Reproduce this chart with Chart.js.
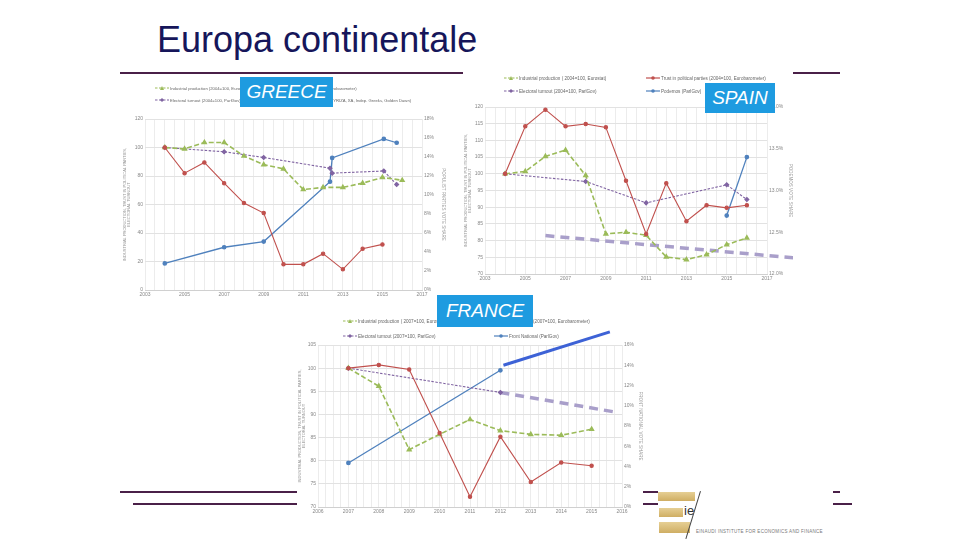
<!DOCTYPE html>
<html>
<head>
<meta charset="utf-8">
<script src="https://cdn.jsdelivr.net/npm/chart.js@4.4.0/dist/chart.umd.min.js"></script>
<style>
  body { margin: 0; width: 960px; height: 540px; background: #fff; position: relative; overflow: hidden; font-family: "Liberation Sans", Arial, sans-serif; }
  .title { position: absolute; left: 157px; top: 19px; font-size: 36px; color: #16165a; }
  .hl { position: absolute; height: 1.5px; background: #4a2048; }
  .box { position: absolute; background: #fff; }
  .box canvas { position: absolute; left: 0; top: 0; }
  .tag { position: absolute; background: #1e9be0; color: #fff; font-style: italic; font-size: 19px; text-align: center; z-index: 5; }
  .leg { position: absolute; color: #666; white-space: nowrap; display: flex; align-items: center; z-index: 3; }
  .leg svg { margin-right: 1px; }
  .logo { position: absolute; }
</style>
</head>
<body>
<div class="title">Europa continentale</div>

<div class="hl" style="left:120px; top:72px; width:720px;"></div>
<div class="hl" style="left:120px; top:491px; width:720px;"></div>
<div class="hl" style="left:133px; top:503px; width:719px;"></div>

<div class="box" id="frBox" style="left:297px; top:303px; width:346px; height:221px;"><canvas id="fr"></canvas></div>
<div class="box" id="grBox" style="left:122px; top:76px; width:324px; height:227px;"><canvas id="gr"></canvas></div>
<div class="box" id="esBox" style="left:463px; top:66px; width:330px; height:225px;"><canvas id="es"></canvas></div>

<div class="tag" style="left:240px; top:77px; width:93px; height:30px; line-height:30px;">GREECE</div>
<div class="tag" style="left:705px; top:83px; width:70px; height:30px; line-height:30px;">SPAIN</div>
<div class="tag" style="left:437px; top:295px; width:96px; height:32px; line-height:32px;">FRANCE</div>

<!-- logo -->
<div class="logo" style="left:658px; top:486px; width:175px; height:54px; background:#fff;"></div>
<div class="logo" style="left:658px; top:492px; width:37px; height:9px; background:linear-gradient(#e6cf94,#cfae63);"></div>
<div class="logo" style="left:659px; top:508px; width:24px; height:9px; background:linear-gradient(#e6cf94,#cfae63);"></div>
<div class="logo" style="left:659px; top:522px; width:31px; height:11px; background:linear-gradient(#e6cf94,#cfae63);"></div>
<div class="logo" style="left:684px; top:503px; font-size:13px; color:#333;">ie</div>
<div class="logo" style="left:700px; top:491px; width:1px; height:50px; background:#444; transform:rotate(17deg); transform-origin:top left;"></div>
<div class="logo" style="left:696px; top:529px; font-size:4.5px; color:#777; letter-spacing:0.3px;">EINAUDI INSTITUTE FOR ECONOMICS AND FINANCE</div>

<script>
// ---- Greece ----
const grIPYears = [2004, 2005, 2006, 2007, 2008, 2009, 2010, 2011, 2012, 2013, 2014, 2015, 2016];
const grIndProd = [100, 99, 103.5, 103.5, 94, 88, 85, 70.5, 72, 72, 75, 79, 77];
const grTrustYears = [2004, 2005, 2006, 2007, 2008, 2009, 2010, 2011, 2012, 2013, 2014, 2015];
const grTrust = [100, 82, 89.5, 75, 61, 54, 18, 18, 25.5, 14.5, 29, 32];
const grElecYears = [2004, 2007, 2009, 2012.35, 2012.46, 2015.07, 2015.72];
const grTurnout = [100, 97, 93, 85.5, 82, 83.5, 74];
const grPopulist = [2.8, 4.5, 5.1, 11.4, 13.9, 15.9, 15.5];

// ---- Spain ----
const esYears = [2004, 2005, 2006, 2007, 2008, 2009, 2010, 2011, 2012, 2013, 2014, 2015, 2016];
const esIndProd = [100, 100.7, 105.2, 107.1, 99.5, 82, 82.5, 81.6, 75.1, 74.3, 75.8, 78.8, 80.8];
const esTrust = [100, 114.2, 119.2, 114.2, 114.9, 113.9, 97.9, 82, 97.2, 85.8, 90.6, 89.8, 90.6];
const esElecYears = [2004, 2008, 2011, 2015, 2016];
const esTurnout = [100, 97.7, 91.3, 96.7, 92.3];
const esPodemosYears = [2015, 2016];
const esPodemos = [12.7, 13.4];
const esTrendYears = [2006, 2018.4];
const esTrend = [81.5, 74.8];

// ---- France ----
const frYears = [2007, 2008, 2009, 2010, 2011, 2012, 2013, 2014, 2015];
const frIndProd = [100, 96.1, 82.4, 85.7, 88.9, 86.5, 85.7, 85.5, 86.8];
const frTrust = [100, 100.7, 99.7, 86, 72.2, 85.2, 75.4, 79.6, 78.9];
const frElecYears = [2007, 2012];
const frTurnout = [100, 94.75];
const frFN = [4.35, 13.5];
const frTurnoutTrendYears = [2012, 2015.7];
const frTurnoutTrend = [94.75, 90.6];
const frFNTrendYears = [2012.1, 2015.6];
const frFNTrend = [14.0, 17.3];

const GREEN = '#9bbb59', RED = '#c0504d', PURPLE = '#8064a2', BLUE = '#4f81bd', LAV = '#a99fca';

const pts = (xs, ys) => xs.map((x, i) => ({ x: x, y: ys[i] }));

function ipSet(xs, ys) {
  return { data: pts(xs, ys), borderColor: GREEN, backgroundColor: GREEN, borderWidth: 1.6, borderDash: [5, 2.5],
    pointStyle: 'triangle', pointRadius: 2, yAxisID: 'y' };
}
function trustSet(xs, ys) {
  return { data: pts(xs, ys), borderColor: RED, backgroundColor: RED, borderWidth: 1.1,
    pointStyle: 'circle', pointRadius: 1.7, yAxisID: 'y' };
}
function turnSet(xs, ys) {
  return { data: pts(xs, ys), borderColor: PURPLE, backgroundColor: PURPLE, borderWidth: 1.1, borderDash: [2.5, 1.5],
    pointStyle: 'rectRot', pointRadius: 2, yAxisID: 'y' };
}
function partySet(xs, ys) {
  return { data: pts(xs, ys), borderColor: BLUE, backgroundColor: BLUE, borderWidth: 1.3,
    pointStyle: 'circle', pointRadius: 1.7, yAxisID: 'y2' };
}

function makeChart(id, o) {
  const box = document.getElementById(id + 'Box');
  const c = document.getElementById(id);
  c.width = box.clientWidth; c.height = box.clientHeight;
  return new Chart(c.getContext('2d'), {
    type: 'line',
    data: { datasets: o.datasets },
    options: {
      responsive: false, animation: false,
      layout: { padding: { top: o.top, left: 0, right: 0, bottom: 0 } },
      plugins: { legend: { display: false }, tooltip: { enabled: false } },
      scales: {
        x: {
          type: 'linear', min: o.xmin, max: o.xmax,
          ticks: { stepSize: o.xgrid, autoSkip: false, maxRotation: 0, font: { size: 5 }, color: '#888', padding: 2,
            callback: v => (Number.isInteger(v) && (v - o.xmin) % o.xlab === 0) ? String(v) : '' },
          grid: { color: '#ececec', drawTicks: false }, border: { color: '#d0d0d0' },
          afterFit: s => { s.height = o.xh; }
        },
        y: {
          position: 'left', min: o.ymin, max: o.ymax,
          ticks: { stepSize: o.ystep, font: { size: 5 }, color: '#888', padding: 2 },
          grid: { color: '#e2e2e2', drawTicks: false }, border: { display: false },
          title: { display: true, text: o.ytitle, font: { size: 4 }, color: '#999', padding: 0 },
          afterFit: s => { s.width = o.yw; }
        },
        y2: {
          position: 'right', min: o.y2min, max: o.y2max,
          ticks: { stepSize: o.y2step, font: { size: 5 }, color: '#888', padding: 2,
            callback: v => o.y2fmt(v) },
          grid: { drawOnChartArea: false, drawTicks: false }, border: { display: false },
          title: { display: true, text: o.y2title, font: { size: 4.5 }, color: '#999', padding: 0 },
          afterFit: s => { s.width = o.y2w; }
        }
      }
    }
  });
}

makeChart('gr', {
  top: 43, xmin: 2003, xmax: 2017, xgrid: 0.5, xlab: 2, xh: 13,
  ymin: 0, ymax: 120, ystep: 20, yw: 23,
  y2min: 0, y2max: 18, y2step: 2, y2w: 24, y2fmt: v => v + '%',
  ytitle: ['INDUSTRIAL PRODUCTION, TRUST IN POLITICAL PARTIES,', 'ELECTORAL TURNOUT'],
  y2title: 'POPULIST PARTIES VOTE SHARE',
  datasets: [
    trustSet(grTrustYears, grTrust),
    ipSet(grIPYears, grIndProd),
    turnSet(grElecYears, grTurnout),
    partySet(grElecYears, grPopulist)
  ]
});

makeChart('es', {
  top: 41, xmin: 2003, xmax: 2017, xgrid: 0.5, xlab: 2, xh: 17,
  ymin: 70, ymax: 120, ystep: 5, yw: 22,
  y2min: 12, y2max: 14, y2step: 0.5, y2w: 26, y2fmt: v => v.toFixed(1) + '%',
  ytitle: ['INDUSTRIAL PRODUCTION, TRUST IN POLITICAL PARTIES,', 'ELECTORAL TURNOUT'],
  y2title: 'PODEMOS VOTE SHARE',
  datasets: [
    trustSet(esYears, esTrust),
    ipSet(esYears, esIndProd),
    turnSet(esElecYears, esTurnout),
    partySet(esPodemosYears, esPodemos),
    { data: pts(esTrendYears, esTrend), borderColor: LAV, borderWidth: 3.5, borderDash: [9, 6], pointRadius: 0, yAxisID: 'y', clip: false }
  ]
});

makeChart('fr', {
  top: 42, xmin: 2006, xmax: 2016, xgrid: 0.25, xlab: 1, xh: 17,
  ymin: 70, ymax: 105, ystep: 5, yw: 21,
  y2min: 0, y2max: 16, y2step: 2, y2w: 21, y2fmt: v => v + '%',
  ytitle: ['INDUSTRIAL PRODUCTION, TRUST IN POLITICAL PARTIES,', 'ELECTORAL TURNOUT'],
  y2title: 'FRONT NATIONAL VOTE SHARE',
  datasets: [
    trustSet(frYears, frTrust),
    ipSet(frYears, frIndProd),
    turnSet(frElecYears, frTurnout),
    partySet(frElecYears, frFN),
    { data: pts(frTurnoutTrendYears, frTurnoutTrend), borderColor: LAV, borderWidth: 3.5, borderDash: [9, 6], pointRadius: 0, yAxisID: 'y', clip: false },
    { data: pts(frFNTrendYears, frFNTrend), borderColor: '#3d62d6', borderWidth: 3, pointRadius: 0, yAxisID: 'y2', clip: false }
  ]
});

// legends (HTML text with small line samples)
function sample(color, dash, marker) {
  const m = marker === 'tri' ? `<polygon points="7,1 9,5 5,5" fill="${color}"/>`
          : marker === 'dia' ? `<polygon points="7,1 9,3 7,5 5,3" fill="${color}"/>`
          : `<circle cx="7" cy="3" r="1.8" fill="${color}"/>`;
  return `<svg width="14" height="6"><line x1="0" y1="3" x2="14" y2="3" stroke="${color}" stroke-width="1.2" ${dash ? 'stroke-dasharray="2.5,1.5"' : ''}/>${m}</svg>`;
}
function legend(x, y, size, color, dash, marker, text) {
  const d = document.createElement('div');
  d.className = 'leg';
  d.style.left = x + 'px'; d.style.top = y + 'px'; d.style.fontSize = size + 'px';
  d.innerHTML = sample(color, dash, marker) + '<span>' + text + '</span>';
  document.body.appendChild(d);
}
legend(155, 85, 4.2, GREEN, true, 'tri', 'Industrial production (2004=100, Eurostat)');
legend(246, 85, 4.2, RED, false, 'dot', 'Trust in political parties (2004=100, Eurobarometer)');
legend(155, 97, 4.2, PURPLE, true, 'dia', 'Electoral turnout (2004=100, ParlGov)');
legend(246, 97, 4.2, BLUE, false, 'dot', 'Populist parties vote share (ParlGov: SYRIZA, XA, Indep. Greeks, Golden Dawn)');

legend(504, 75, 4.6, GREEN, true, 'tri', 'Industrial production ( 2004=100, Eurostat)');
legend(646, 75, 4.6, RED, false, 'dot', 'Trust in political parties (2004=100, Eurobarometer)');
legend(504, 88, 4.6, PURPLE, true, 'dia', 'Electoral turnout (2004=100, ParlGov)');
legend(646, 88, 4.6, BLUE, false, 'dot', 'Podemos (ParlGov)');

legend(343, 318, 4.6, GREEN, true, 'tri', 'Industrial production ( 2007=100, Eurostat)');
legend(470, 318, 4.6, RED, false, 'dot', 'Trust in political parties (2007=100, Eurobarometer)');
legend(343, 333, 4.6, PURPLE, true, 'dia', 'Electoral turnout (2007=100, ParlGov)');
legend(494, 333, 4.6, BLUE, false, 'dot', 'Front National (ParlGov)');
</script>
</body>
</html>
